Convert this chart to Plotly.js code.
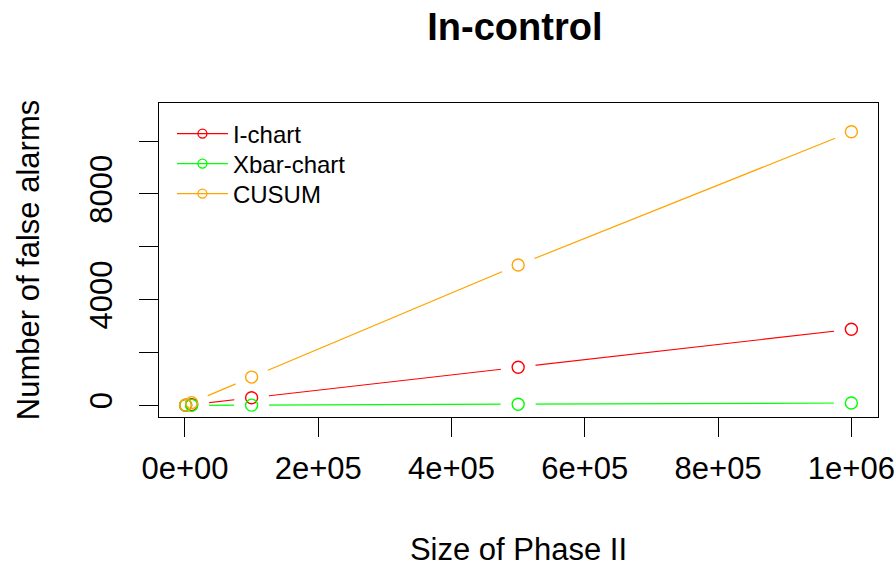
<!DOCTYPE html>
<html>
<head>
<meta charset="utf-8">
<script src="https://cdn.plot.ly/plotly-3.0.1.min.js"></script>
<style>
  html, body { margin: 0; padding: 0; background: #ffffff; }
  #chart { width: 894px; height: 569px; }
</style>
</head>
<body>
<div id="chart"></div>
<script>
// Phase II sample sizes and the false alarms counted for each chart
var phase2Size = [1000, 10000, 100000, 500000, 1000000];
var iChart     = [3, 29, 290, 1440, 2880];
var xbarChart  = [0, 1, 9, 45, 90];
var cusum      = [10, 104, 1070, 5310, 10350];

var seriesNames  = ['I-chart', 'Xbar-chart', 'CUSUM'];
var seriesColors = ['#ff0000', '#00ff00', '#ffa500'];
var seriesValues = [iChart, xbarChart, cusum];

var xTickVals = [0, 200000, 400000, 600000, 800000, 1000000];
var xTickText = ['0e+00', '2e+05', '4e+05', '6e+05', '8e+05', '1e+06'];
var yTickVals = [0, 2000, 4000, 6000, 8000, 10000];
var yTickText = ['0', '', '4000', '', '8000', ''];

var FONT = 'Liberation Sans, Arial, sans-serif';
var traces = [];

// connecting lines
seriesValues.forEach(function (vals, i) {
  traces.push({
    x: phase2Size, y: vals, type: 'scatter', mode: 'lines',
    line: { color: seriesColors[i], width: 1.2 },
    showlegend: false, hoverinfo: 'skip'
  });
});
// white halo around each point, leaving the line gap of a "b"-type plot
seriesValues.forEach(function (vals) {
  traces.push({
    x: phase2Size, y: vals, type: 'scatter', mode: 'markers',
    marker: { symbol: 'circle', size: 35, color: '#ffffff', line: { width: 0 } },
    showlegend: false, hoverinfo: 'skip'
  });
});
// open circle markers
seriesValues.forEach(function (vals, i) {
  traces.push({
    x: phase2Size, y: vals, type: 'scatter', mode: 'markers',
    name: seriesNames[i],
    marker: { symbol: 'circle-open', size: 12, color: seriesColors[i], line: { width: 1.4 } },
    showlegend: false
  });
});
// legend entries (line with a circle), one legend per row
var legendIds = ['legend', 'legend2', 'legend3'];
seriesNames.forEach(function (nm, i) {
  traces.push({
    x: [null], y: [null], type: 'scatter', mode: 'lines+markers',
    name: nm, legend: legendIds[i],
    line: { color: seriesColors[i], width: 1.2 },
    marker: { symbol: 'circle-open', size: 9, color: seriesColors[i], line: { width: 1.3 } }
  });
});

var W = 894, H = 569;
var plotL = 159, plotR = 878, plotT = 103, plotB = 417;
var rowY = [134, 164, 194];

function legendAt(row) {
  return {
    x: 0.018, xanchor: 'left',
    y: (plotB - rowY[row]) / (plotB - plotT), yanchor: 'middle',
    bgcolor: 'rgba(0,0,0,0)', borderwidth: 0,
    font: { family: FONT, size: 24, color: '#000000' },
    itemwidth: 51
  };
}

var layout = {
  width: W, height: H,
  margin: { l: plotL, r: W - plotR, t: plotT, b: H - plotB, pad: 0 },
  paper_bgcolor: '#ffffff', plot_bgcolor: '#ffffff',
  font: { family: FONT, size: 30, color: '#000000' },
  title: {
    text: '<b>In-control</b>',
    font: { family: FONT, size: 38, color: '#000000' },
    x: 0.495, xref: 'paper', xanchor: 'center',
    y: 1 - 27 / H, yref: 'container', yanchor: 'middle'
  },
  xaxis: {
    range: [-38960, 1039960],
    tickmode: 'array', tickvals: xTickVals, ticktext: xTickText,
    ticks: 'outside', ticklen: 19, tickwidth: 1, tickcolor: '#000000',
    showgrid: false, zeroline: false,
    showline: true, mirror: true, linecolor: '#000000', linewidth: 1,
    tickfont: { family: FONT, size: 31, color: '#000000' },
    ticklabelstandoff: 5,
    ticklabeloverflow: 'allow',
    title: { text: 'Size of Phase II', font: { family: FONT, size: 31, color: '#000000' }, standoff: 53 }
  },
  yaxis: {
    range: [-440, 11440],
    tickmode: 'array', tickvals: yTickVals, ticktext: yTickText,
    tickangle: -90,
    ticks: 'outside', ticklen: 19, tickwidth: 1, tickcolor: '#000000',
    showgrid: false, zeroline: false,
    showline: true, mirror: true, linecolor: '#000000', linewidth: 1,
    tickfont: { family: FONT, size: 31, color: '#000000' },
    ticklabelstandoff: 15,
    ticklabeloverflow: 'allow',
    title: { text: 'Number of false alarms', font: { family: FONT, size: 31, color: '#000000' }, standoff: 34 }
  },
  legend: legendAt(0),
  legend2: legendAt(1),
  legend3: legendAt(2),
  showlegend: true
};

Plotly.newPlot('chart', traces, layout, { staticPlot: true, displayModeBar: false });
</script>
</body>
</html>
